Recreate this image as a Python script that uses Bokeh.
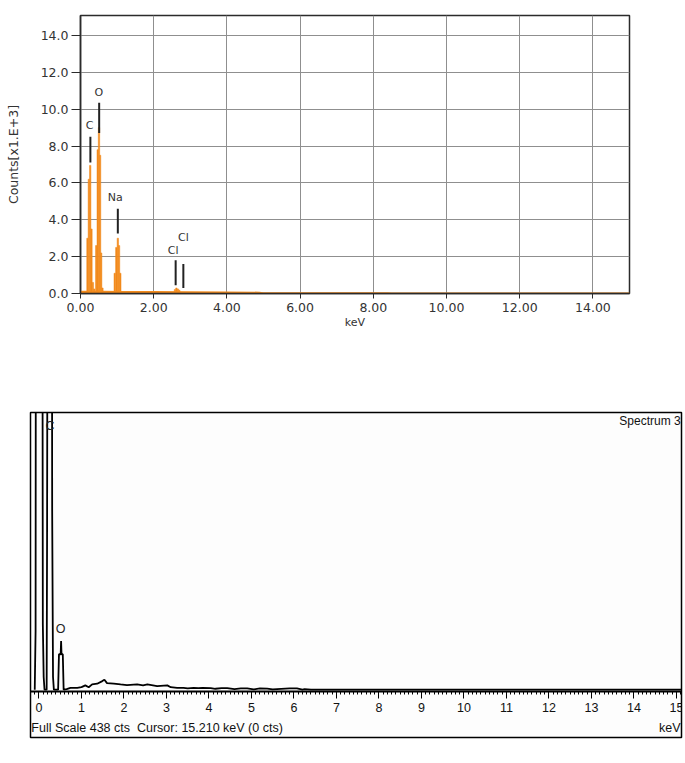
from bokeh.plotting import figure
from bokeh.models import Range1d, Label, FixedTicker, SingleIntervalTicker
from bokeh.core.properties import value
from bokeh.embed import file_html
from bokeh.resources import INLINE

# ---------------- panel (a) data ----------------
a_xticks = [0, 2, 4, 6, 8, 10, 12, 14]
a_xtick_labels = ["0.00", "2.00", "4.00", "6.00", "8.00", "10.00", "12.00", "14.00"]
a_yticks = [0, 2, 4, 6, 8, 10, 12, 14]
a_ytick_labels = ["0.0", "2.0", "4.0", "6.0", "8.0", "10.0", "12.0", "14.0"]

# channel energies (keV) and counts (x1000)
a_peak_kev = [0.19, 0.228, 0.265, 0.30, 0.338, 0.375, 0.43, 0.47, 0.505, 0.535, 0.565, 0.60,
              0.935, 0.978, 1.02, 1.053, 1.088, 2.58, 2.62, 2.66, 2.70]
a_peak_counts = [3.0, 6.2, 6.95, 3.5, 0.6, 0.25, 2.6, 7.8, 9.0, 7.5, 2.2, 0.3,
                 1.1, 2.5, 3.0, 2.6, 1.1, 0.22, 0.3, 0.25, 0.18]
# continuum background
a_bg_kev = [0.0, 0.6, 1.2, 2.0, 3.0, 4.0, 4.9, 5.0, 6.0, 7.0, 8.4, 8.5, 10.0, 15.0]
a_bg_counts = [0.15, 0.15, 0.14, 0.13, 0.12, 0.11, 0.10, 0.06, 0.06, 0.05, 0.05, 0.03, 0.02, 0.02]

# element markers
a_mark_kev = [0.27, 0.51, 1.02, 2.60, 2.81]
a_mark_top = [8.5, 10.35, 4.6, 1.8, 1.6]
a_mark_bottom = [7.1, 8.7, 3.25, 0.45, 0.3]
a_mark_names = ["C", "O", "Na", "Cl", "Cl"]
a_name_kev = [0.25, 0.50, 0.95, 2.53, 2.81]
a_name_counts = [9.1, 10.9, 5.2, 2.35, 3.05]

# ---------------- panel (b) data ----------------
b_xticks_labels = [str(i) for i in range(16)]
b_kev = [-0.10, -0.08, -0.06, 0.0, 0.06, 0.09, 0.11, 0.13,
         0.18, 0.19, 0.23, 0.27, 0.31, 0.33, 0.35,
         0.45, 0.47, 0.51, 0.52, 0.53, 0.56, 0.58,
         0.65, 0.74, 0.90, 1.00, 1.09, 1.17, 1.25, 1.37, 1.49, 1.54, 1.60, 1.76, 1.92,
         2.07, 2.31, 2.45, 2.55, 2.78, 3.02, 3.10, 3.25, 3.40, 3.50, 3.64, 3.75, 3.85,
         4.04, 4.15, 4.30, 4.43, 4.60, 4.75, 4.90, 5.05, 5.20, 5.37, 5.50, 5.90, 6.07,
         6.20, 6.25, 6.40, 15.12]
b_counts = [0, 93, 2000, 3000, 2000, 104, 20, 0,
            0, 236, 2000, 3000, 283, 20, 0,
            0, 56, 56, 77, 56, 56, 0,
            1, 3, 3, 4, 6.8, 4, 8.4, 9.5, 13.6, 15.8, 10.4, 9.5, 8.4,
            7.4, 8.4, 7.0, 8.4, 5.8, 6.8, 4.0, 3.0, 3.0, 2.0, 3.0, 2.5, 3.0,
            2.6, 1.5, 2.6, 2.6, 1.0, 2.0, 2.0, 0.5, 2.0, 1.6, 0.5, 2.0, 2.0,
            0.3, 1.0, 0, 0]
b_mark_names = ["C", "O"]
b_mark_kev = [0.26, 0.51]
b_mark_counts = [416, 96]

FONT_A = "DejaVu Sans"
FONT_B = "Liberation Sans"
ORANGE = "#F28A1C"

# ---------------- figure (a) ----------------
pa = figure(width=685, height=385, x_range=Range1d(0, 15), y_range=Range1d(0, 15.08),
            output_backend="svg", toolbar_location=None,
            min_border_left=80, min_border_right=56, min_border_top=15, min_border_bottom=92)
pa.background_fill_color = "white"
pa.outline_line_color = "#2b2b2b"
pa.outline_line_width = 1.5

pa.xaxis.ticker = FixedTicker(ticks=a_xticks)
pa.xaxis.major_label_overrides = dict(zip(a_xticks, a_xtick_labels))
pa.yaxis.ticker = FixedTicker(ticks=a_yticks)
pa.yaxis.major_label_overrides = dict(zip(a_yticks, a_ytick_labels))
for ax in (pa.xaxis, pa.yaxis):
    ax.major_label_text_font = FONT_A
    ax.major_label_text_font_size = "12.5px"
    ax.major_label_text_color = "#333333"
    ax.axis_line_color = "#2b2b2b"
    ax.axis_line_width = 1.5
    ax.major_tick_line_color = "#2b2b2b"
    ax.major_tick_in = 0
    ax.minor_tick_line_color = None
    ax.axis_label_text_font = FONT_A
    ax.axis_label_text_font_style = "normal"
    ax.axis_label_text_color = "#333333"
pa.xaxis.major_tick_out = 5
pa.xaxis.major_label_standoff = 4
pa.xaxis.axis_label = "keV"
pa.xaxis.axis_label_text_font_size = "11px"
pa.xaxis.axis_label_standoff = 1
pa.yaxis.major_tick_out = 9
pa.yaxis.major_label_standoff = 3
pa.yaxis.axis_label = "Counts[x1.E+3]"
pa.yaxis.axis_label_text_font_size = "12.5px"
pa.yaxis.axis_label_standoff = 17
pa.xgrid.grid_line_color = "#8f8f8f"
pa.ygrid.grid_line_color = "#8f8f8f"

pa.varea(x=a_bg_kev, y1=0, y2=a_bg_counts, fill_color=ORANGE)
pa.line(x=[0, 15], y=[0, 0], line_color=ORANGE, line_width=2)
pa.vbar(x=a_peak_kev, top=a_peak_counts, bottom=0, width=0.038,
        fill_color=ORANGE, line_color=ORANGE, line_width=0.5)
pa.segment(x0=a_mark_kev, y0=a_mark_bottom, x1=a_mark_kev, y1=a_mark_top,
           line_color="#222222", line_width=2)
pa.text(x=a_name_kev, y=a_name_counts, text=a_mark_names,
        text_font=value(FONT_A), text_font_size="11px", text_color="#333333",
        text_align="center", text_baseline="middle")

pa.add_layout(Label(x=0.0, y=15.08, text="001", text_font=FONT_A, text_font_size="10px",
                    text_color="#333333", text_baseline="bottom", y_offset=1))
pa.add_layout(Label(x=6.75, y=-3.8, text="(a)", text_font="Liberation Serif",
                    text_font_style="bold", text_font_size="17px", text_color="black",
                    text_align="center", text_baseline="middle"))

# ---------------- figure (b) ----------------
pb = figure(width=685, height=377, x_range=Range1d(-0.2, 15.12), y_range=Range1d(-75.5, 438),
            output_backend="svg", toolbar_location=None, y_axis_location=None,
            min_border_left=30, min_border_right=4, min_border_top=27, min_border_bottom=25)
pb.background_fill_color = "#fdfdfd"
pb.outline_line_color = "black"
pb.outline_line_width = 1.5
pb.xgrid.visible = False
pb.ygrid.visible = False
pb.xaxis.fixed_location = -3
pb.xaxis.ticker = SingleIntervalTicker(interval=1, num_minor_ticks=10)
pb.xaxis.major_label_overrides = {i: s for i, s in enumerate(b_xticks_labels)}
pb.xaxis.axis_line_color = "black"
pb.xaxis.axis_line_width = 2
pb.xaxis.major_tick_line_color = "black"
pb.xaxis.minor_tick_line_color = "black"
pb.xaxis.major_tick_in = 0
pb.xaxis.minor_tick_in = 0
pb.xaxis.major_tick_out = 7
pb.xaxis.minor_tick_out = 3
pb.xaxis.major_label_standoff = 4
pb.xaxis.major_label_text_font = FONT_B
pb.xaxis.major_label_text_font_size = "12.5px"
pb.xaxis.major_label_text_color = "#111111"

pb.line(x=b_kev, y=b_counts, line_color="black", line_width=1.8)
pb.text(x=b_mark_kev, y=b_mark_counts, text=b_mark_names,
        text_font=value(FONT_B), text_font_size="12.5px", text_color="#222222",
        text_align="center", text_baseline="middle")

pb.add_layout(Label(x=15.1, y=424, text="Spectrum 3", text_font=FONT_B, text_font_size="12px",
                    text_color="#111111", text_align="right", text_baseline="middle"))
pb.add_layout(Label(x=-0.18, y=-61, text="Full Scale 438 cts\u00a0 Cursor: 15.210 keV (0 cts)",
                    text_font=FONT_B, text_font_size="12.5px", text_color="#111111",
                    text_align="left", text_baseline="middle"))
pb.add_layout(Label(x=15.1, y=-61, text="keV", text_font=FONT_B, text_font_size="12.5px",
                    text_color="#111111", text_align="right", text_baseline="middle"))
pb.add_layout(Label(x=6.75, y=-96, text="(b)", text_font="Liberation Serif",
                    text_font_style="bold", text_font_size="17px", text_color="black",
                    text_align="center", text_baseline="middle"))

open("out.html", "w").write(file_html([pa, pb], INLINE))
